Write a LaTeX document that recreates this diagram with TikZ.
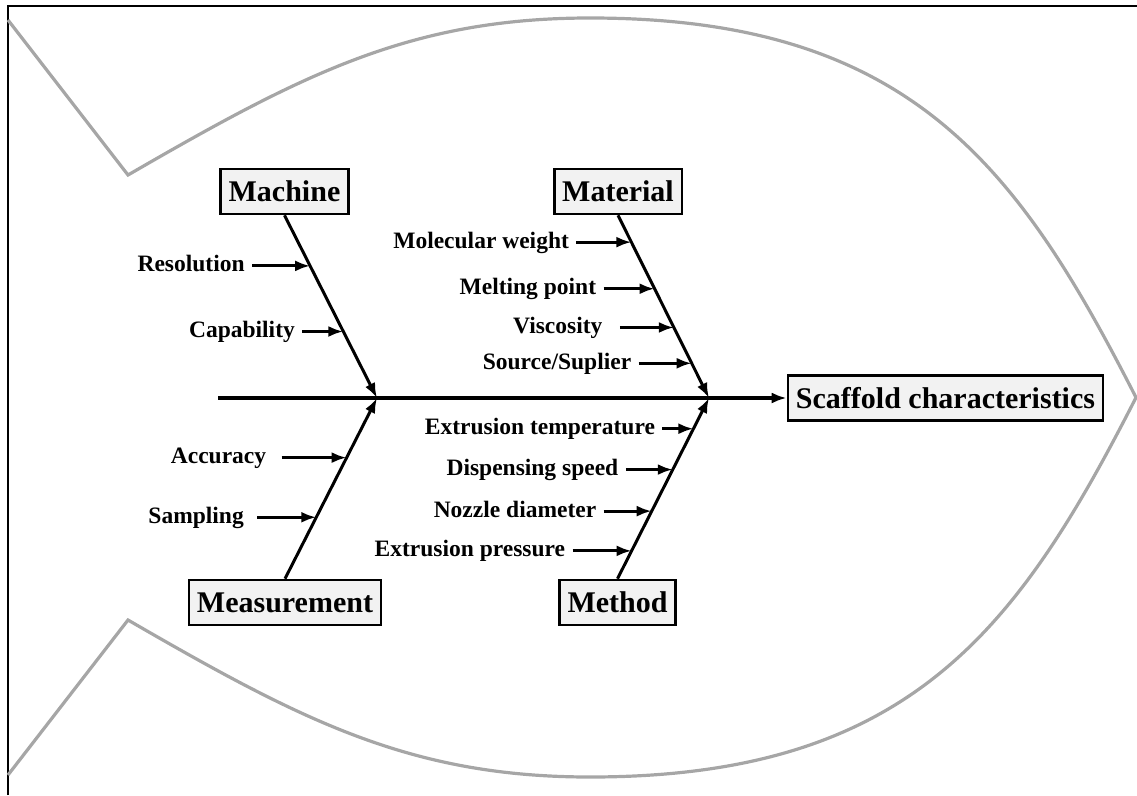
\documentclass[tikz,border=0pt]{standalone}
\usepackage{fontspec}
\setmainfont{Liberation Serif}
\usetikzlibrary{arrows.meta, positioning}
\definecolor{boxgray}{HTML}{F2F2F2}
\definecolor{fishgray}{HTML}{A6A6A6}

\begin{document}
\begin{tikzpicture}[x=1pt, y=-1pt, ->, >={Latex[length=15pt,width=11pt]}, line width=3pt,
    box/.style={draw, fill=boxgray, line width=2.6pt, inner xsep=8pt, minimum height=45pt,
      font=\fontsize{30}{36}\selectfont\bfseries},
    cause/.style={inner xsep=6pt, inner ysep=0pt, text height=17pt, text depth=5pt,
      font=\fontsize{23.5}{28}\selectfont\bfseries},
    fish/.style={-, draw=fishgray, line width=3.2pt}]
      \useasboundingbox (0,0) rectangle (1137,795);
      \draw[-, line width=2.6pt] (8,795) -- (8,6) -- (1137,6);
      \draw[fish] (8,20) -- (128,175) .. controls (301,75) and (410,18) .. (590,18)
          .. controls (910,18) and (1018,166) .. (1136,397.5)
          .. controls (1018,629) and (910,777) .. (590,777)
          .. controls (410,777) and (301,720) .. (128,620) -- (8,775);

      \node[box] (effect) at (945.5,398) {Scaffold characteristics};
      \node[box] (machine) at (284.5,191.5) {Machine};
      \node[box] (material) at (618,191.5) {Material};
      \node[box] (measurement) at (285,602.5) {Measurement};
      \node[box] (method) at (617.5,602.5) {Method};
      \coordinate (tail) at (218,398);
      \coordinate (j1) at (377,398);
      \coordinate (j2) at (709,398);

      \draw[line width=3.3pt] (tail) -- (effect);
      \draw (machine.south) -- (j1);
      \draw (measurement.north) -- (j1);
      \draw (material.south) -- (j2);
      \draw (method.north) -- (j2);

      \path (machine.south) -- (j1) coordinate[pos=0.277] (mc1) coordinate[pos=0.636] (mc2);
      \path (measurement.north) -- (j1) coordinate[pos=0.67] (ms1) coordinate[pos=0.34] (ms2);
      \path (material.south) -- (j2) coordinate[pos=0.147] (mt1) coordinate[pos=0.402] (mt2)
          coordinate[pos=0.614] (mt3) coordinate[pos=0.81] (mt4);
      \path (method.north) -- (j2) coordinate[pos=0.83] (me1) coordinate[pos=0.604] (me2)
          coordinate[pos=0.374] (me3) coordinate[pos=0.154] (me4);

      \node[cause, left=58pt of mc1] (resolution) {Resolution};
      \node[cause, left=41pt of mc2] (capability) {Capability};
      \node[cause, inner xsep=14pt, left=65pt of ms1] (accuracy) {Accuracy};
      \node[cause, inner xsep=12pt, left=59pt of ms2] (sampling) {Sampling};
      \node[cause, left=55pt of mt1] (weight) {Molecular weight};
      \node[cause, left=51pt of mt2] (melting) {Melting point};
      \node[cause, inner xsep=16pt, left=54pt of mt3] (viscosity) {Viscosity};
      \node[cause, left=53pt of mt4] (source) {Source/Suplier};
      \node[cause, left=31pt of me1] (temperature) {Extrusion temperature};
      \node[cause, left=47pt of me2] (speed) {Dispensing speed};
      \node[cause, left=48pt of me3] (nozzle) {Nozzle diameter};
      \node[cause, left=59pt of me4] (pressure) {Extrusion pressure};

      \path (resolution) edge (mc1)
          (capability) edge (mc2)
          (accuracy) edge (ms1)
          (sampling) edge (ms2)
          (weight) edge (mt1)
          (melting) edge (mt2)
          (viscosity) edge (mt3)
          (source) edge (mt4)
          (temperature) edge (me1)
          (speed) edge (me2)
          (nozzle) edge (me3)
          (pressure) edge (me4);
\end{tikzpicture}
\end{document}
